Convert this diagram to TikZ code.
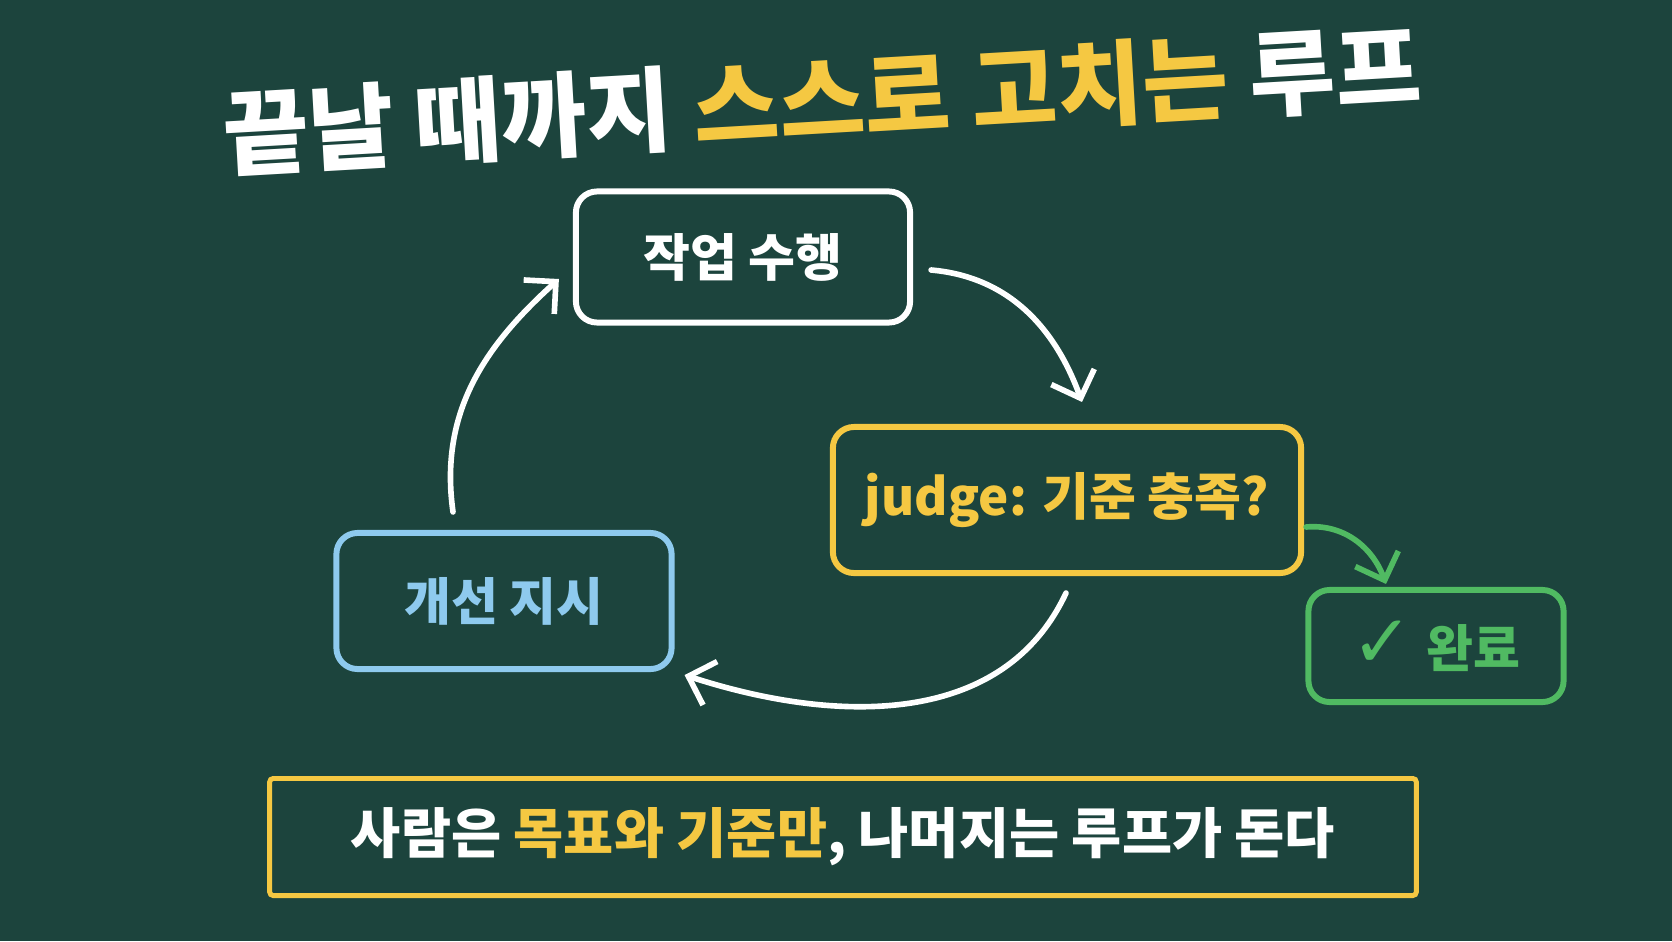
\documentclass[tikz,border=0pt]{standalone}
\usepackage{fontspec}
\usepackage{tikz}
\usetikzlibrary{positioning, arrows.meta, calc}
\newfontfamily\kr{Noto Sans CJK KR}
\newfontfamily\symfont{DejaVu Sans}
\definecolor{board}{RGB}{28,68,61}
\definecolor{chalkyellow}{RGB}{245,200,66}
\definecolor{chalkblue}{RGB}{142,202,238}
\definecolor{chalkgreen}{RGB}{80,186,98}

\begin{document}
\begin{tikzpicture}[x=0.01cm, y=0.01cm]
	\tikzset{
		box/.style={draw, rounded corners=6pt, line width=1.7pt, inner sep=0pt, align=center, font=\kr\bfseries\fontsize{14.5}{17}\selectfont},
		loop arrow/.style={white, line width=1.6pt, line cap=round, -{Straight Barb[length=6.5pt, width=13pt, line width=1.6pt]}}
	}
	\fill[board] (0,0) rectangle (1672,941);
	\useasboundingbox (0,0) rectangle (1672,941);

	\node[rotate=3.3, white, font=\kr\bfseries\fontsize{26.5}{32}\selectfont] (title) at (822,841) {끝날 때까지 \textcolor{chalkyellow}{스스로 고치는} 루프};

	\node[box, white, minimum width=3.34cm, minimum height=1.31cm] (task) at (743,684) {작업 수행};
	\node[box, chalkyellow, minimum width=4.68cm, minimum height=1.46cm] (judge) at (1067,441) {judge: 기준 충족?};
	\node[box, chalkblue, minimum width=3.35cm, minimum height=1.36cm] (fix) at (504,340) {개선 지시};
	\node[box, chalkgreen, minimum width=2.55cm, minimum height=1.12cm] (done) at (1436,295) {{\symfont\bfseries\fontsize{21}{21}\selectfont ✓}\hspace{0.25em}완료};
	\node[box, chalkyellow, rounded corners=1pt, line width=1.4pt, text=white, minimum width=11.46cm, minimum height=1.17cm, font=\kr\bfseries\fontsize{15.5}{18}\selectfont] (note) at (843,104) {사람은 \textcolor{chalkyellow}{목표와 기준만}, 나머지는 루프가 돈다};

	% loop
	\draw[loop arrow] ($(task.east)+(18,-13)$) to[out=-5, in=110] ($(judge.north)+(15,22)$);
	\draw[loop arrow] ($(judge.south)+(-1,-17)$) to[out=-115, in=-18] ($(fix.south east)+(10,-3)$);
	\draw[loop arrow] ($(fix.north)+(-51,18)$) to[out=98, in=-138] ($(task.west)+(-14,-22)$);
	\draw[loop arrow, chalkgreen] ($(judge.east)+(2,-27)$) to[out=5, in=110] ($(done.north)+(-50,3)$);
\end{tikzpicture}
\end{document}
